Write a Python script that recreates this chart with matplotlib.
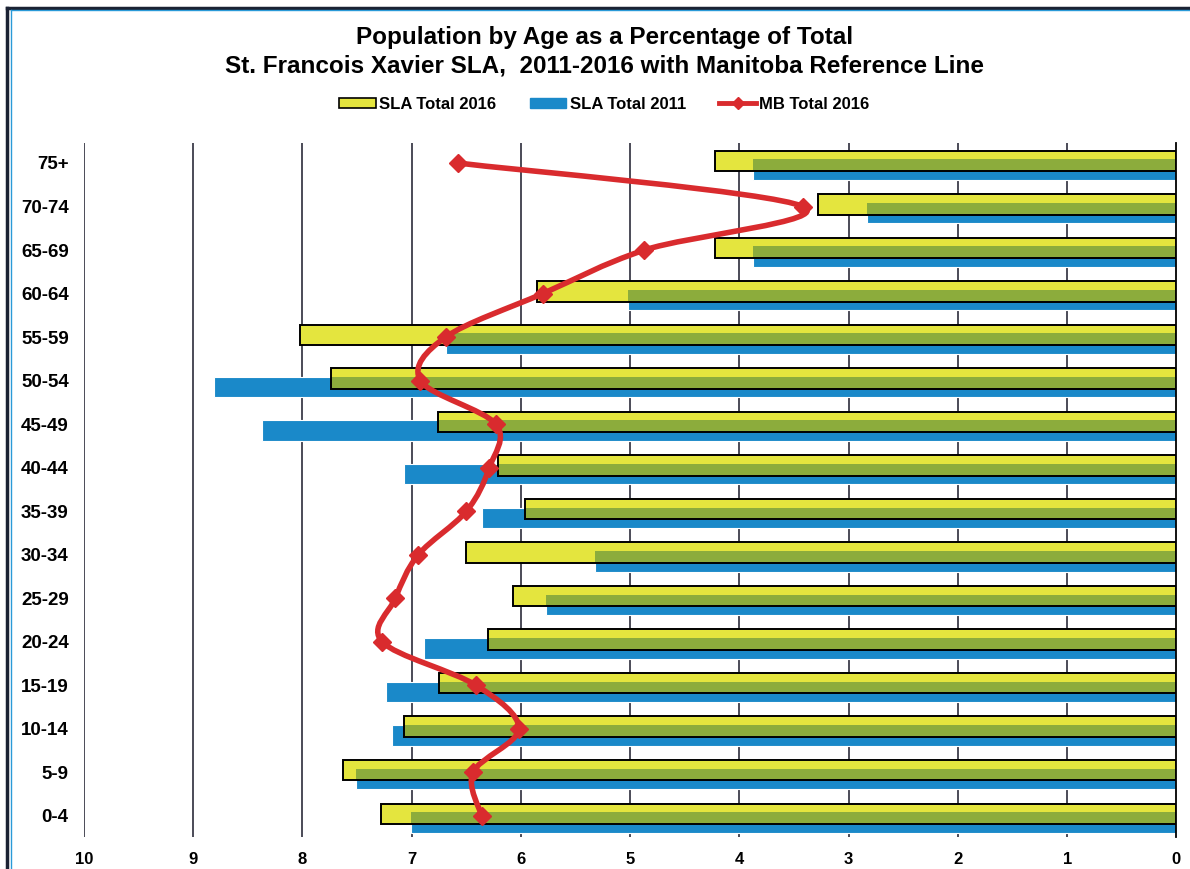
import numpy as np
import matplotlib
matplotlib.use("Agg")
import matplotlib.pyplot as plt
from matplotlib.path import Path
from matplotlib.patches import PathPatch, Patch
from matplotlib.lines import Line2D

plt.rcParams["font.family"] = ["Liberation Sans", "DejaVu Sans"]

# ----------------------------------------------------
#                      DATA
# ----------------------------------------------------
ages = ["0-4", "5-9", "10-14", "15-19", "20-24", "25-29", "30-34", "35-39",
        "40-44", "45-49", "50-54", "55-59", "60-64", "65-69", "70-74", "75+"]
sla_2016 = [7.28, 7.63, 7.07, 6.75, 6.30, 6.07, 6.50, 5.96,
            6.21, 6.76, 7.74, 8.02, 5.85, 4.22, 3.28, 4.22]
sla_2011 = [7.01, 7.51, 7.18, 7.24, 6.89, 5.77, 5.32, 6.36,
            7.07, 8.37, 8.81, 6.69, 5.02, 3.88, 2.83, 3.88]
mb_2016 = [6.36, 6.44, 6.02, 6.41, 7.27, 7.15, 6.94, 6.50,
           6.29, 6.23, 6.92, 6.69, 5.80, 4.87, 3.42, 6.58]
x_ticks = list(range(0, 11))

YELLOW = "#e4e53e"
GREEN = "#8cac3c"
BLUE = "#1a89c9"
RED = "#d92b2e"


def smooth_path(xs, ys):
    """Catmull-Rom style smoothed path built from cubic bezier segments."""
    pts = np.column_stack([xs, ys]).astype(float)
    n = len(pts)
    verts = [pts[0]]
    codes = [Path.MOVETO]
    for i in range(n - 1):
        p0 = pts[i - 1] if i > 0 else pts[i]
        p1 = pts[i]
        p2 = pts[i + 1]
        p3 = pts[i + 2] if i + 2 < n else pts[i + 1]
        c1 = p1 + (p2 - p0) / 6.0
        c2 = p2 - (p3 - p1) / 6.0
        verts += [c1, c2, p2]
        codes += [Path.CURVE4] * 3
    return Path(verts, codes)


fig = plt.figure(figsize=(11.9, 8.69), dpi=100)
ax = fig.add_axes([0.0706, 0.037, 0.918, 0.798])

pos = np.arange(len(ages))
y_off, b_off, h = 0.05, -0.15, 0.47

# grid lines under the bars
for t in x_ticks[1:]:
    ax.axvline(t, color="#1a1a2a", lw=1.1, zorder=0)

ax.barh(pos + b_off, sla_2011, height=h, color=BLUE, edgecolor="white",
        linewidth=0.8, zorder=2)
ax.barh(pos + y_off, sla_2016, height=h, color=YELLOW, linewidth=0, zorder=3)

# overlap of the two bars shows as green
ov_top = pos + b_off + h / 2
ov_bot = pos + y_off - h / 2
overlap = np.minimum(sla_2016, sla_2011)
ax.barh((ov_top + ov_bot) / 2, overlap, height=ov_top - ov_bot, color=GREEN,
        linewidth=0, zorder=4)
ax.barh(pos + y_off, sla_2016, height=h, fill=False, edgecolor="black",
        linewidth=1.4, zorder=5)

# Manitoba reference line
ax.add_patch(PathPatch(smooth_path(mb_2016, pos), facecolor="none",
                       edgecolor=RED, lw=4, zorder=6, capstyle="round"))
ax.plot(mb_2016, pos, linestyle="none", marker="D", markersize=9,
        color=RED, zorder=7)

ax.set_xlim(10, 0)
ax.set_ylim(-0.48, 15.45)
ax.set_xticks(x_ticks)
ax.set_yticks(pos)
ax.set_yticklabels(ages)
ax.tick_params(axis="both", length=0)
ax.tick_params(axis="x", pad=11, labelsize=12)
ax.tick_params(axis="y", pad=11, labelsize=13.5)
for lab in ax.get_xticklabels() + ax.get_yticklabels():
    lab.set_fontweight("bold")

for s in ["top", "left", "bottom"]:
    ax.spines[s].set_visible(False)
ax.spines["right"].set_linewidth(1.3)

# title
fig.text(0.508, 0.957, "Population by Age as a Percentage of Total",
         ha="center", va="center", fontsize=17.5, fontweight="bold")
fig.text(0.508, 0.924, "St. Francois Xavier SLA,  2011-2016 with Manitoba Reference Line",
         ha="center", va="center", fontsize=17.5, fontweight="bold")

# legend
handles = [
    Patch(facecolor=YELLOW, edgecolor="black", linewidth=1.2, label="SLA Total 2016"),
    Patch(facecolor=BLUE, edgecolor=BLUE, label="SLA Total 2011"),
    Line2D([0], [0], color=RED, lw=3.5, marker="D", markersize=6, label="MB Total 2016"),
]
fig.legend(handles=handles, loc="center", bbox_to_anchor=(0.508, 0.880), ncol=3,
           frameon=False, prop={"weight": "bold", "size": 12}, handlelength=2.2,
           handleheight=0.6, handletextpad=0.2, columnspacing=2.0)

# page frame
fig.add_artist(Line2D([0.006, 1.0], [0.991, 0.991], color="#1b2233", lw=2.5))
fig.add_artist(Line2D([0.006, 0.006], [0.0, 0.991], color="#1b2233", lw=2.5))
fig.add_artist(Line2D([0.009, 1.0], [0.988, 0.988], color="#2a9ad8", lw=1))
fig.add_artist(Line2D([0.009, 0.009], [0.0, 0.988], color="#2a9ad8", lw=1))

fig.savefig("out.png", dpi=100)
